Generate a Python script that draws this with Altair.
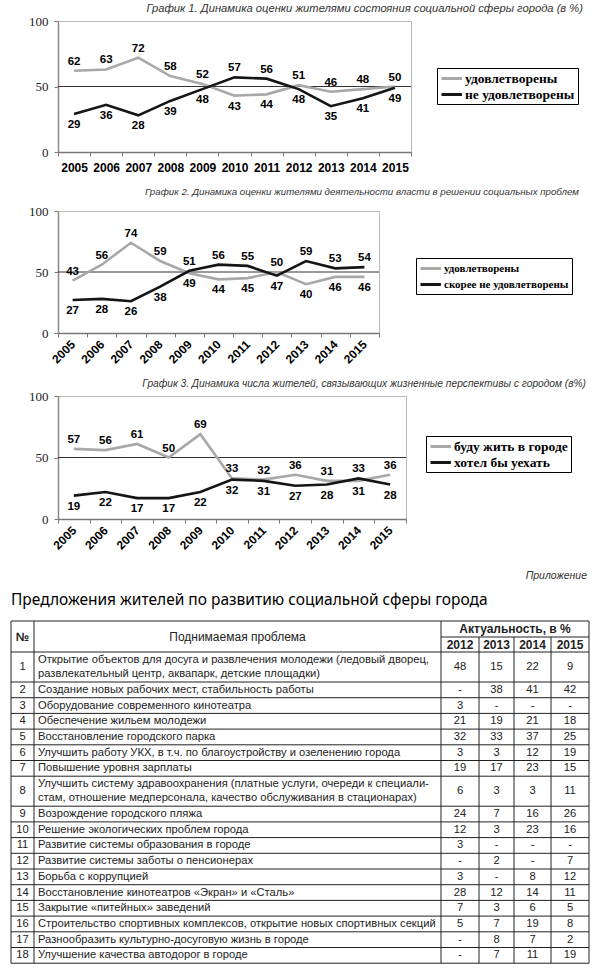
import altair as alt
import pandas as pd

years = list(range(2005, 2016))

c1_title = "График 1. Динамика оценки жителями состояния социальной сферы города (в %)"
c1_names = ["удовлетворены", "не удовлетворены"]
c1_a = [62, 63, 72, 58, 52, 43, 44, 51, 46, 48, 50]
c1_b = [29, 36, 28, 39, 48, 57, 56, 48, 35, 41, 49]

c2_title = "График 2. Динамика оценки жителями деятельности власти в решении социальных проблем"
c2_names = ["удовлетворены", "скорее не удовлетворены"]
c2_a = [43, 56, 74, 59, 49, 44, 45, 50, 40, 46, 46]
c2_b = [27, 28, 26, 38, 51, 56, 55, 47, 59, 53, 54]

c3_title = "График 3. Динамика числа жителей, связывающих жизненные перспективы с городом (в%)"
c3_names = ["буду жить в городе", "хотел бы уехать"]
c3_a = [57, 56, 61, 50, 69, 33, 32, 36, 31, 31, 36]
c3_b = [19, 22, 17, 17, 22, 32, 31, 27, 28, 33, 28]

y_ticks = [0, 50, 100]
ref_level = [50]

appendix_label = "Приложение"
table_heading = "Предложения жителей по развитию социальной сферы города"
hdr_num = "№"
hdr_problem = "Поднимаемая проблема"
hdr_actual = "Актуальность, в %"
tbl_years = ["2012", "2013", "2014", "2015"]
tbl_num = [str(i) for i in range(1, 19)]
tbl_problem = [
    "Открытие объектов для досуга и развлечения молодежи (ледовый дворец,\nразвлекательный центр, аквапарк, детские площадки)",
    "Создание новых рабочих мест, стабильность работы",
    "Оборудование современного кинотеатра",
    "Обеспечение жильем молодежи",
    "Восстановление городского парка",
    "Улучшить работу УКХ, в т.ч. по благоустройству и озеленению города",
    "Повышение уровня зарплаты",
    "Улучшить систему здравоохранения (платные услуги, очереди к специали-\nстам, отношение медперсонала, качество обслуживания в стационарах)",
    "Возрождение городского пляжа",
    "Решение экологических проблем города",
    "Развитие системы образования в городе",
    "Развитие системы заботы о пенсионерах",
    "Борьба с коррупцией",
    "Восстановление кинотеатров «Экран» и «Сталь»",
    "Закрытие «питейных» заведений",
    "Строительство спортивных комплексов, открытие новых спортивных секций",
    "Разнообразить культурно-досуговую жизнь в городе",
    "Улучшение качества автодорог в городе",
]
tbl_2012 = ["48", "-", "3", "21", "32", "3", "19", "6", "24", "12", "3", "-", "3", "28", "7", "5", "-", "-"]
tbl_2013 = ["15", "38", "-", "19", "33", "3", "17", "3", "7", "3", "-", "2", "-", "12", "3", "7", "8", "7"]
tbl_2014 = ["22", "41", "-", "21", "37", "12", "23", "3", "16", "23", "-", "-", "8", "14", "6", "19", "7", "11"]
tbl_2015 = ["9", "42", "-", "18", "25", "19", "15", "11", "26", "16", "-", "7", "12", "11", "5", "8", "2", "19"]

SANS = "Liberation Sans"
SERIF = "Liberation Serif"
AXIS_EXT = 47


def line_chart(title, names, a, b, width, height, rotated, legend_x, legend_y,
               title_offset, x_extent, title_dx, title_size, legend_size):
    rows = []
    for i, yr in enumerate(years):
        for name, v, o, first in ((names[0], a[i], b[i], True), (names[1], b[i], a[i], False)):
            above = v > o or (v == o and first)
            rows.append(dict(year=yr, value=v, series=name, pos="above" if above else "below"))
    df = pd.DataFrame(rows)
    band = width / len(years)
    lo, hi = years[0] - 0.5, years[-1] + 0.5
    edges = [y - 0.5 for y in years] + [hi]
    ax = dict(values=edges,
              labelExpr=f"datum.value > {years[-1]} ? '' : format(datum.value + 0.5, 'd')",
              labelOffset=band / 2, tickSize=4, tickColor="#777", domainColor="#777",
              domainWidth=1.5, labelFont=SANS, labelFontWeight="bold", labelFontSize=12,
              labelColor="#000", labelFlush=False, labelOverlap=False, grid=False,
              title=None, minExtent=x_extent)
    if rotated:
        ax.update(labelAngle=315, labelAlign="right", labelBaseline="middle", labelPadding=5)
    else:
        ax.update(labelAngle=0, labelAlign="center", labelBaseline="top", labelPadding=6)
    xs = alt.Scale(domain=[lo, hi], nice=False, zero=False)
    ys = alt.Scale(domain=[0, 100], nice=False)
    yax = alt.Axis(values=y_ticks, title=None, grid=False, labelFont=SERIF, labelFontSize=13,
                   labelColor="#222", tickSize=4, tickColor="#777", domainColor="#888",
                   domainWidth=1.5, labelPadding=6, minExtent=AXIS_EXT)
    x = alt.X("year:Q", scale=xs, axis=alt.Axis(**ax))
    y = alt.Y("value:Q", scale=ys, axis=yax)

    rule = alt.Chart(pd.DataFrame({"level": ref_level})).mark_rule(
        color="#333", strokeWidth=1).encode(y=alt.Y("level:Q", scale=ys, axis=yax))
    base = alt.Chart(df).encode(x=x, y=y)
    color = alt.Color("series:N", scale=alt.Scale(domain=names, range=["#a8a8a8", "#151515"]),
                      legend=alt.Legend(title=None, orient="none", legendX=legend_x,
                                        legendY=legend_y, direction="vertical",
                                        strokeColor="#000", fillColor="#fff", padding=3,
                                        symbolType="M-1,0H2.4", symbolStrokeWidth=3,
                                        symbolSize=144, labelFont=SERIF,
                                        labelFontWeight="bold", labelFontSize=legend_size,
                                        labelColor="#000", rowPadding=2, labelOffset=10))
    lines = base.mark_line(strokeWidth=2.6).encode(color=color, order="year:Q")
    tfont = dict(font=SANS, fontWeight="bold", fontSize=11.5, color="#000")
    up = base.transform_filter(alt.datum.pos == "above").mark_text(dy=-9, **tfont).encode(text="value:Q")
    dn = base.transform_filter(alt.datum.pos == "below").mark_text(dy=11, **tfont).encode(text="value:Q")
    return alt.layer(rule, lines, up, dn).properties(
        width=width, height=height,
        view=alt.ViewBackground(stroke="#b8b8b8"),
        title=alt.TitleParams(text=title, anchor="end", frame="group", dx=title_dx,
                              offset=title_offset, font=SANS, fontStyle="italic",
                              fontWeight="normal", fontSize=title_size, color="#333"))


c1 = line_chart(c1_title, c1_names, c1_a, c1_b, 353, 131, False, 379, 47, 1, 33, 172, 11.2, 13.5)
c2 = line_chart(c2_title, c2_names, c2_a, c2_b, 321, 122, True, 358, 47, 8, 44, 200, 9.7, 11)
c3 = line_chart(c3_title, c3_names, c3_a, c3_b, 348, 123, True, 368, 40, 1, 46, 180, 10.2, 13.5)

# ---------- table ----------
TW = 578
col_edges = [0, 23, 430, 468, 503, 540, 578]
T0 = 55
H1, H2 = 16, 15
single, double = 15.7, 30
LH = 13.5
row_tops = []
cur = T0 + H1 + H2
for p in tbl_problem:
    h = double if "\n" in p else single
    row_tops.append((cur, cur + h))
    cur += h
TB = cur
TH = TB + 3

cells = []
for i in range(len(tbl_num)):
    top, bot = row_tops[i]
    yc = (top + bot) / 2
    nl = tbl_problem[i].count("\n")
    cells.append(dict(x=(col_edges[0] + col_edges[1]) / 2, y=yc, t=tbl_num[i], k="num"))
    cells.append(dict(x=col_edges[1] + 4, y=yc - nl * LH / 2, t=tbl_problem[i], k="prob"))
    for j, col in enumerate([tbl_2012, tbl_2013, tbl_2014, tbl_2015]):
        cells.append(dict(x=(col_edges[2 + j] + col_edges[3 + j]) / 2, y=yc, t=col[i], k="val"))
for j, yr in enumerate(tbl_years):
    cells.append(dict(x=(col_edges[2 + j] + col_edges[3 + j]) / 2, y=T0 + H1 + H2 / 2, t=yr, k="hyear"))
cells.append(dict(x=(col_edges[2] + col_edges[-1]) / 2, y=T0 + H1 / 2, t=hdr_actual, k="hyear"))
cells.append(dict(x=(col_edges[0] + col_edges[1]) / 2, y=T0 + (H1 + H2) / 2, t=hdr_num, k="hnum"))
cells.append(dict(x=(col_edges[1] + col_edges[2]) / 2, y=T0 + (H1 + H2) / 2, t=hdr_problem, k="hprob"))
cdf = pd.DataFrame(cells)

segs = []
full = (col_edges[0], col_edges[-1])
segs.append(dict(x=full[0], x2=full[1], y=T0, y2=T0))
segs.append(dict(x=col_edges[2], x2=full[1], y=T0 + H1, y2=T0 + H1))
segs.append(dict(x=full[0], x2=full[1], y=T0 + H1 + H2, y2=T0 + H1 + H2))
for top, bot in row_tops:
    segs.append(dict(x=full[0], x2=full[1], y=bot, y2=bot))
for cx in [col_edges[0], col_edges[1], col_edges[2], col_edges[-1]]:
    segs.append(dict(x=cx, x2=cx, y=T0, y2=TB))
for cx in col_edges[3:-1]:
    segs.append(dict(x=cx, x2=cx, y=T0 + H1, y2=TB))
sdf = pd.DataFrame(segs)

# the table starts at the page margin, left of the charts' y axes
txs = alt.Scale(domain=[0, TW], range=[-AXIS_EXT, TW - AXIS_EXT], nice=False, zero=False)
tys = alt.Scale(domain=[0, TH], nice=False, zero=False, reverse=True)
X = lambda f: alt.X(f, scale=txs, axis=None)
Y = lambda f: alt.Y(f, scale=tys, axis=None)

grid = alt.Chart(sdf).mark_rule(color="#222", strokeWidth=1).encode(
    x=X("x:Q"), x2="x2:Q", y=Y("y:Q"), y2="y2:Q")
tcell = alt.Chart(cdf)
f = dict(font=SANS, fontSize=11.2, color="#222", baseline="middle", lineBreak="\n", lineHeight=LH)
t_num = tcell.transform_filter(alt.datum.k == "num").mark_text(align="center", **f).encode(x=X("x:Q"), y=Y("y:Q"), text="t:N")
t_prob = tcell.transform_filter(alt.datum.k == "prob").mark_text(align="left", **f).encode(x=X("x:Q"), y=Y("y:Q"), text="t:N")
t_val = tcell.transform_filter(alt.datum.k == "val").mark_text(align="center", **f).encode(x=X("x:Q"), y=Y("y:Q"), text="t:N")
fb = dict(f, fontWeight="bold", fontSize=12)
t_hy = tcell.transform_filter(alt.datum.k == "hyear").mark_text(align="center", **fb).encode(x=X("x:Q"), y=Y("y:Q"), text="t:N")
t_hn = tcell.transform_filter(alt.datum.k == "hnum").mark_text(align="center", **fb).encode(x=X("x:Q"), y=Y("y:Q"), text="t:N")
t_hp = tcell.transform_filter(alt.datum.k == "hprob").mark_text(align="center", **dict(f, fontSize=12)).encode(x=X("x:Q"), y=Y("y:Q"), text="t:N")

heads = pd.DataFrame([
    dict(x=576, y=10, t=appendix_label, k="app"),
    dict(x=0, y=34, t=table_heading, k="head"),
])
t_app = alt.Chart(heads).transform_filter(alt.datum.k == "app").mark_text(
    align="right", baseline="middle", font=SANS, fontStyle="italic", fontSize=10.5, color="#333"
).encode(x=X("x:Q"), y=Y("y:Q"), text="t:N")
t_head = alt.Chart(heads).transform_filter(alt.datum.k == "head").mark_text(
    align="left", baseline="middle", font="Noto Sans", fontSize=15.5, color="#000"
).encode(x=X("x:Q"), y=Y("y:Q"), text="t:N")

table = alt.layer(grid, t_num, t_prob, t_val, t_hy, t_hn, t_hp, t_app, t_head).properties(
    width=TW - AXIS_EXT, height=TH, view=alt.ViewBackground(stroke=None))

chart = alt.vconcat(c1, c2, c3, table, spacing=0).resolve_scale(
    color="independent").resolve_legend(color="independent").properties(
    padding={"left": 10, "top": 2, "right": 0, "bottom": 0}
).configure_view(stroke=None)

chart.save("out.html", embed_options={"renderer": "svg", "actions": False})
